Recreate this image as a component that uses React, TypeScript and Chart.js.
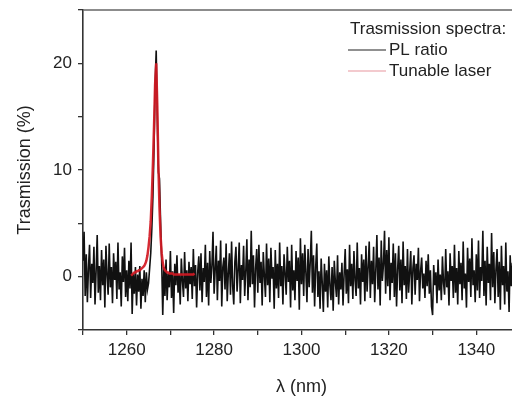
import React, { useEffect, useRef } from "react";
import { Chart, registerables } from "chart.js";

Chart.register(...registerables);

// PL ratio transmission (%), sampled every 0.25 nm starting at 1250 nm
const PL_START_NM = 1250;
const PL_STEP_NM = 0.25;
const plRatio = [
  1.5, 4.2, -1.8, 2.1, -2.4, 0.8, 3.0, -2.0, 1.2, -0.6, 2.8, -2.6, 0.5, 3.9, -1.5, 1.0, -2.2, 2.5, -0.8, 1.6,
  -2.9, 2.9, 0.2, -1.7, 3.1, -1.0, 0.9, -2.5, 2.2, -0.3, 1.4, -2.1, 3.2, -1.2, 0.4, -2.8, 1.9, -0.5, 2.7, -1.9,
  0.6, -2.3, 1.5, -1.1, 3.2, -3.5, 0.3, -1.6, 0.9, -2.7, 0.2, -1.4, 1.0, -3.0, -0.2, -1.8, 0.6, -2.4, 0.4, -1.2,
  -0.6, 0.8, 2.2, 4.5, 7.5, 12, 18, 21.2, 15, 9.8, 9.2, 5.2, 1.5, -3.6, 0.9, -1.8, 1.6, -2.2, 0.3, -1.0,
  2.4, -2.0, 0.5, -3.4, 1.2, -0.8, 2.0, -1.5, 0.2, -2.6, 1.7, -0.4, -1.9, 2.3, -1.1, 0.6, -2.3, 1.4, -0.7, 0.9,
  -2.1, 2.6, -0.9, 1.1, -2.9, 0.4, 1.9, -1.3, 2.2, -2.4, 0.8, -0.5, 3.0, -1.9, 1.3, -2.7, 2.4, -0.6, 1.0, 4.2,
  -1.6, 0.7, 2.9, -2.2, 1.5, -0.4, 3.4, -2.8, 0.9, 1.8, -1.2, 3.1, -2.3, 0.3, 2.2, -1.7, 3.3, -0.9, -2.6, 1.4,
  2.8, -1.4, 0.6, 3.2, -2.5, 1.1, -0.3, 2.9, -1.8, 0.5, 3.5, -2.2, 1.6, -1.0, 4.3, -0.7, 2.0, -2.9, 0.8, 2.6,
  -1.5, 3.0, -0.6, 1.4, -2.7, 2.3, 0.1, -1.9, 3.1, -0.8, 1.7, -2.4, 2.7, -0.2, 0.9, -3.0, 2.5, -1.1, 1.2, -2.0,
  3.2, -0.9, 1.0, -2.6, 2.1, 0.3, -1.7, 2.8, -0.5, 1.5, -2.9, 3.0, -1.3, 0.6, -2.2, 2.4, -0.4, 1.8, -3.1, 3.6,
  -0.7, 2.2, -1.8, 3.0, 0.4, -2.4, 2.6, -1.0, 1.4, 4.3, -1.5, 2.0, -2.8, 0.9, 3.1, -1.9, 0.5, -3.0, 1.7, -0.6,
  -3.3, 1.2, -1.4, 0.6, -2.9, 1.9, -0.8, -2.2, 0.9, -3.2, 1.5, -0.5, -1.9, 2.0, -2.6, 0.4, -1.2, 1.3, -2.7, 0.2,
  2.6, -1.6, 0.7, -2.5, 3.0, -0.9, 1.2, -2.1, 2.4, -0.3, -1.8, 3.2, -1.1, 0.8, -2.6, 2.1, -0.5, 1.6, -2.3, 2.9,
  -1.4, 0.9, 3.3, -2.0, 1.5, -0.7, 2.8, -2.4, 0.6, 3.9, -1.2, 1.8, -2.7, 3.4, -0.4, 1.1, 4.3, -1.6, 2.5, -0.9,
  3.7, -2.2, 1.3, -0.6, 3.1, -1.9, 2.2, -2.8, 0.7, 2.9, -1.3, 1.6, -2.5, 3.3, -0.8, 1.0, -2.1, 2.6, -1.5, 0.4,
  2.4, -2.6, 0.8, 2.0, -1.7, 1.2, -0.3, 2.7, -2.3, 0.5, 1.8, -1.1, 0.3, -2.0, 1.5, -0.9, 2.1, -1.6, 0.6, -2.8,
  -3.6, 1.1, -0.8, 0.4, -2.5, 1.6, -1.3, 0.2, -2.2, 1.9, -0.6, -1.7, 2.6, -1.0, 0.5, -2.7, 2.2, -0.4, 1.0, -2.0,
  3.0, -1.5, 0.8, -2.6, 2.4, -0.7, 1.3, -2.2, 3.3, -1.1, 0.3, -2.9, 2.7, -0.5, 1.7, -1.9, 3.6, -0.8, 0.6, -2.4,
  2.1, -1.3, 3.4, -2.0, 0.9, -0.4, 4.3, -1.8, 1.5, -2.7, 2.8, -0.6, 1.2, -2.2, 4.1, -1.0, 2.3, -2.5, 0.7, 2.6,
  -1.9, 1.4, -3.1, 2.9, -0.8, 1.0, -2.6, 3.2, -1.4, 0.5, -3.3, 2.0, -0.9, 1.3, -2.4, 0.8, -1.6, 2.2, -1.3, 0.9, -0.5,
];

// Tunable laser transmission (%), sampled every 0.25 nm starting at 1261 nm
const LASER_START_NM = 1261;
const LASER_STEP_NM = 0.25;
const tunableLaser = [
  0.1, 0.2, 0.3, 0.4,
  0.4, 0.5, 0.5, 0.6,
  0.6, 0.7, 0.8, 0.9,
  1.0, 1.2, 1.5, 2.0,
  2.8, 3.8, 5.2, 7.5,
  10.5, 14.0, 18.0, 20.0,
  16.0, 10.5, 6.5, 3.8,
  2.2, 1.3, 0.8, 0.6,
  0.5, 0.4, 0.4, 0.3,
  0.3, 0.3, 0.3, 0.2,
  0.2, 0.2, 0.2, 0.2,
  0.2, 0.2, 0.2, 0.2,
  0.2, 0.2, 0.2, 0.2,
  0.2, 0.2, 0.2, 0.2,
  0.2, 0.2, 0.3,
];

const X_MIN = 1250;
const X_MAX = 1350;
const X_STEP = 10;
const xLabelTicks = [1260, 1280, 1300, 1320, 1340];
const Y_MIN = -5;
const Y_MAX = 25;
const Y_STEP = 5;
const yLabelTicks = [0, 10, 20];

const legendTitle = "Trasmission spectra:";
const seriesLabels = ["PL ratio", "Tunable laser"];
const xTitle = "λ (nm)";
const yTitle = "Trasmission (%)";

const FONT = '"Liberation Sans", Arial, Helvetica, sans-serif';

export default function App() {
  const canvasRef = useRef<HTMLCanvasElement | null>(null);

  useEffect(() => {
    const canvas = canvasRef.current;
    if (!canvas) return;

    const plPoints = plRatio.map((v, i) => ({ x: PL_START_NM + i * PL_STEP_NM, y: v }));
    const laserPoints = tunableLaser.map((v, i) => ({ x: LASER_START_NM + i * LASER_STEP_NM, y: v }));

    const legendColors = ["#222222", "rgba(215,80,95,0.6)"];

    const framePlugin = {
      id: "frameAndLegend",
      afterDraw(chart: any) {
        const { ctx, chartArea } = chart;
        ctx.save();
        ctx.strokeStyle = "#666666";
        ctx.lineWidth = 1.5;
        ctx.beginPath();
        ctx.moveTo(chartArea.left, chartArea.top);
        ctx.lineTo(chartArea.right, chartArea.top);
        ctx.stroke();

        ctx.font = `17px ${FONT}`;
        ctx.fillStyle = "#222222";
        ctx.textBaseline = "middle";
        ctx.textAlign = "left";
        ctx.fillText(legendTitle, 350, 29);
        chart.data.datasets.forEach((ds: any, i: number) => {
          const y = 50 + i * 21;
          ctx.strokeStyle = legendColors[i];
          ctx.lineWidth = 1.2;
          ctx.beginPath();
          ctx.moveTo(348, y);
          ctx.lineTo(386, y);
          ctx.stroke();
          ctx.fillStyle = "#222222";
          ctx.fillText(ds.label, 389, y);
        });
        ctx.restore();
      },
    };

    const chart = new Chart(canvas, {
      type: "line",
      data: {
        datasets: [
          {
            label: seriesLabels[0],
            data: plPoints,
            borderColor: "#111111",
            borderWidth: 1.6,
            pointRadius: 0,
            tension: 0,
            order: 2,
          },
          {
            label: seriesLabels[1],
            data: laserPoints,
            borderColor: "rgba(210,25,35,0.92)",
            borderWidth: 2.5,
            pointRadius: 0,
            tension: 0,
            order: 1,
          },
        ],
      },
      options: {
        animation: false,
        responsive: false,
        maintainAspectRatio: false,
        devicePixelRatio: 1,
        layout: { padding: { top: 10, right: 0, left: 0, bottom: 0 } },
        plugins: { legend: { display: false }, tooltip: { enabled: false } },
        scales: {
          x: {
            type: "linear",
            min: X_MIN,
            max: X_MAX,
            afterFit: (s: any) => {
              s.height = 66;
              s.paddingLeft = 0;
              s.paddingRight = 0;
            },
            afterBuildTicks: (s: any) => {
              s.ticks = s.ticks.filter((t: any) => (t.value - X_MIN) % X_STEP === 0 && t.value < X_MAX);
            },
            ticks: {
              stepSize: X_STEP,
              autoSkip: false,
              maxRotation: 0,
              padding: 5,
              color: "#222222",
              font: { family: FONT, size: 17 },
              callback: (v: any) => (xLabelTicks.includes(Number(v)) ? String(v) : ""),
            },
            grid: {
              drawOnChartArea: false,
              drawTicks: true,
              tickLength: 5,
              tickColor: "#333333",
              lineWidth: 1.3,
            },
            border: { display: true, color: "#333333", width: 1.6 },
            title: {
              display: true,
              text: xTitle,
              color: "#222222",
              font: { family: FONT, size: 18, lineHeight: 1 },
              padding: { top: 0, bottom: 0 },
            },
          },
          y: {
            type: "linear",
            min: Y_MIN,
            max: Y_MAX,
            afterFit: (s: any) => {
              s.width = 83;
              s.paddingTop = 0;
              s.paddingBottom = 0;
            },
            ticks: {
              stepSize: Y_STEP,
              autoSkip: false,
              padding: 6,
              color: "#222222",
              font: { family: FONT, size: 17 },
              callback: (v: any) => (yLabelTicks.includes(Number(v)) ? String(v) : ""),
            },
            grid: {
              drawOnChartArea: false,
              drawTicks: true,
              tickLength: 5,
              tickColor: "#333333",
              lineWidth: 1.3,
            },
            border: { display: true, color: "#333333", width: 1.6 },
            title: {
              display: true,
              text: yTitle,
              color: "#222222",
              font: { family: FONT, size: 18, lineHeight: 1 },
              padding: { top: 16, bottom: 0 },
            },
          },
        },
      },
      plugins: [framePlugin],
    });

    return () => {
      chart.destroy();
    };
  }, []);

  return (
    <div
      style={{
        position: "fixed",
        left: 0,
        top: 0,
        width: 512,
        height: 396,
        overflow: "hidden",
        background: "#ffffff",
      }}
    >
      <canvas ref={canvasRef} width={520} height={396} style={{ display: "block", width: 520, height: 396 }} />
    </div>
  );
}
